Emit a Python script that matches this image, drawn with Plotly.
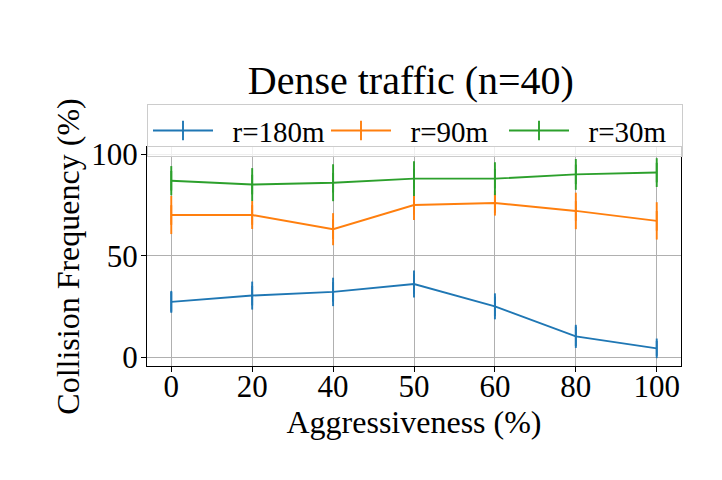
import plotly.graph_objects as go

# aggressiveness levels (categorical x axis)
aggressiveness = ["0", "20", "40", "50", "60", "80", "100"]

# collision frequency (%) per radius
r180_mean = [27.3, 30.4, 32.2, 36.1, 25.1, 10.3, 4.4]
r180_err = [5.4, 6.9, 7.0, 6.6, 6.4, 5.7, 3.7]

r90_mean = [70.1, 70.1, 63.1, 75.0, 76.0, 72.1, 67.2]
r90_err = [9.4, 6.9, 7.9, 7.4, 6.2, 9.0, 9.2]

r30_mean = [87.0, 85.1, 86.0, 88.0, 88.0, 90.1, 91.0]
r30_err = [7.2, 8.1, 9.1, 8.6, 8.1, 7.6, 7.1]

series = [
    ("r=180m", r180_mean, r180_err, "#1f77b4"),
    ("r=90m", r90_mean, r90_err, "#ff7f0e"),
    ("r=30m", r30_mean, r30_err, "#2ca02c"),
]

FONT = "Liberation Serif"
PAD = "\u00a0\u00a0"  # little gap between legend line and its label

fig = go.Figure()
for name, mean, err, color in series:
    # the small vertical marker sits inside the error bar on the plot,
    # but gives the legend its errorbar "+" look
    fig.add_trace(go.Scatter(
        x=aggressiveness, y=mean, name=PAD + name, mode="lines+markers",
        line=dict(color=color, width=1.9),
        marker=dict(symbol="line-ns", size=14, color=color,
                    line=dict(color=color, width=1.9)),
        error_y=dict(type="data", array=err, visible=True,
                     color=color, thickness=1.9, width=0),
    ))

axis_style = dict(
    showline=True, linecolor="black", linewidth=1, mirror=True,
    ticks="outside", ticklen=5, tickcolor="black",
    showgrid=True, gridcolor="#b0b0b0", gridwidth=1,
    zeroline=False, automargin=False,
    tickfont=dict(family=FONT, size=31, color="black"),
)

# page is drawn 8px in from the window corner, so margins are shifted by 8
fig.update_layout(
    width=722, height=480,
    paper_bgcolor="white", plot_bgcolor="white",
    margin=dict(l=139, r=49, t=139, b=122, autoexpand=False),
    font=dict(family=FONT, color="black"),
    title=dict(text="Dense traffic (n=40)", x=0.558, xanchor="center",
               y=0.85, yanchor="middle",
               font=dict(family=FONT, size=40, color="black")),
    xaxis=dict(axis_style, type="category", range=[-0.3, 6.3],
               ticklabelstandoff=-12,
               title=dict(text="Aggressiveness (%)", standoff=0,
                          font=dict(family=FONT, size=32, color="black"))),
    yaxis=dict(axis_style, range=[-4.3, 103.6], tickvals=[0, 50, 100],
               ticklabelstandoff=-3,
               title=dict(text="Collision Frequency (%)", standoff=2,
                          font=dict(family=FONT, size=32, color="black"))),
    legend=dict(orientation="h", x=0, xanchor="left", y=1.196, yanchor="top",
                bgcolor="rgba(255,255,255,0.8)", bordercolor="#cccccc",
                borderwidth=1, itemwidth=60,
                entrywidth=103, entrywidthmode="pixels",
                font=dict(family=FONT, size=29, color="black")),
    showlegend=True,
)

fig.write_html("out.html")
